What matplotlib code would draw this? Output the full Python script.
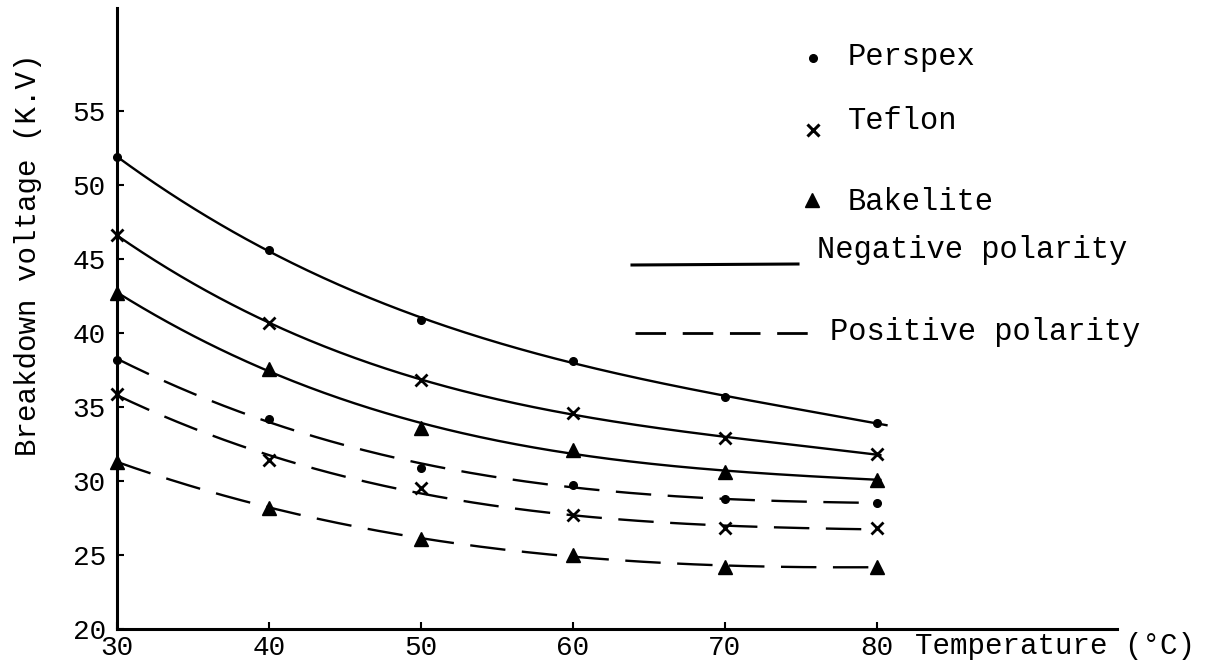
import numpy as np
import matplotlib
matplotlib.use("Agg")
import matplotlib.pyplot as plt

plt.rcParams['font.family'] = ['Liberation Mono', 'DejaVu Sans Mono']

# ---- data ----
temps = [30, 40, 50, 60, 70, 80]
perspex_neg = [51.9, 45.6, 40.9, 38.1, 35.7, 33.9]
teflon_neg = [46.6, 40.7, 36.8, 34.6, 32.9, 31.8]
bakelite_neg = [42.7, 37.6, 33.6, 32.1, 30.6, 30.1]
perspex_pos = [38.2, 34.2, 30.9, 29.7, 28.8, 28.5]
teflon_pos = [35.9, 31.4, 29.5, 27.7, 26.8, 26.8]
bakelite_pos = [31.3, 28.2, 26.1, 25.0, 24.2, 24.2]

x_ticks = [30, 40, 50, 60, 70, 80]
y_ticks = [20, 25, 30, 35, 40, 45, 50, 55]

W, H = 1225, 671
fig = plt.figure(figsize=(W / 100, H / 100), dpi=100)
bottom_px = 629
top_px = 8
ax = fig.add_axes([117 / W, (H - bottom_px) / H, 1000 / W, (bottom_px - top_px) / H])
ax.set_xlim(30, 30 + 1000 / 15.2)
ax.set_ylim(20, 20 + (bottom_px - top_px) / 14.8)

series = [
    (perspex_neg, 'o', 5.5, '-', 80.7),
    (teflon_neg, 'x', 8, '-', 80.3),
    (bakelite_neg, '^', 10, '-', 80.3),
    (perspex_pos, 'o', 5.5, 'dash', 80.0),
    (teflon_pos, 'x', 8, 'dash', 80.0),
    (bakelite_pos, '^', 10, 'dash', 80.0),
]

xt = np.array(temps, dtype=float)
for vals, mk, ms, ls, xend in series:
    yv = np.array(vals, dtype=float)
    coef = np.polyfit(xt, yv, 3)
    xs = np.linspace(30, xend, 300)
    ys = np.polyval(coef, xs)
    if ls == '-':
        ax.plot(xs, ys, color='black', lw=1.7, solid_capstyle='butt')
    else:
        ax.plot(xs, ys, color='black', lw=1.7, dashes=(15, 7))
    ax.plot(xt, yv, linestyle='none', marker=mk, markersize=ms, color='black',
            markeredgewidth=2.0 if mk == 'x' else 1.0, clip_on=False)

for s in ['top', 'right']:
    ax.spines[s].set_visible(False)
for s in ['left', 'bottom']:
    ax.spines[s].set_linewidth(2.2)

ax.set_xticks(x_ticks)
ax.set_xticklabels([str(v) for v in x_ticks])
ax.set_yticks(y_ticks)
ax.set_yticklabels([str(v) for v in y_ticks])
ax.tick_params(axis='both', direction='in', length=5, width=1.5, labelsize=20)
ax.tick_params(axis='y', pad=8)
ax.tick_params(axis='x', pad=4)

# axis titles
fig.text(915 / W, 1 - 646 / H, 'Temperature (°C)', fontsize=21,
         ha='left', va='center')
fig.text(28 / W, 1 - 255 / H, 'Breakdown voltage (K.V)', fontsize=21,
         rotation=90, ha='center', va='center')

# manual key
tf = fig.transFigure
def fx(p):
    return p / W
def fy(p):
    return 1 - p / H

ax.plot([fx(813)], [fy(58)], marker='o', markersize=5.5, color='black',
        transform=tf, clip_on=False)
fig.text(fx(848), fy(57), 'Perspex', fontsize=22, ha='left', va='center')
ax.plot([fx(813)], [fy(130)], marker='x', markersize=8, markeredgewidth=2.2,
        color='black', transform=tf, clip_on=False)
fig.text(fx(848), fy(121), 'Teflon', fontsize=22, ha='left', va='center')
ax.plot([fx(812)], [fy(200)], marker='^', markersize=10, color='black',
        transform=tf, clip_on=False)
fig.text(fx(848), fy(202), 'Bakelite', fontsize=22, ha='left', va='center')

ax.plot([fx(632), fx(798)], [fy(265), fy(264)], color='black', lw=2.2,
        transform=tf, clip_on=False)
fig.text(fx(817), fy(250), 'Negative polarity', fontsize=22, ha='left',
         va='center')
ax.plot([fx(635), fx(813)], [fy(333), fy(333)], color='black', lw=2.0,
        dashes=(11, 6), transform=tf, clip_on=False)
fig.text(fx(830), fy(332), 'Positive polarity', fontsize=22, ha='left',
         va='center')

fig.savefig('out.png', dpi=100)
